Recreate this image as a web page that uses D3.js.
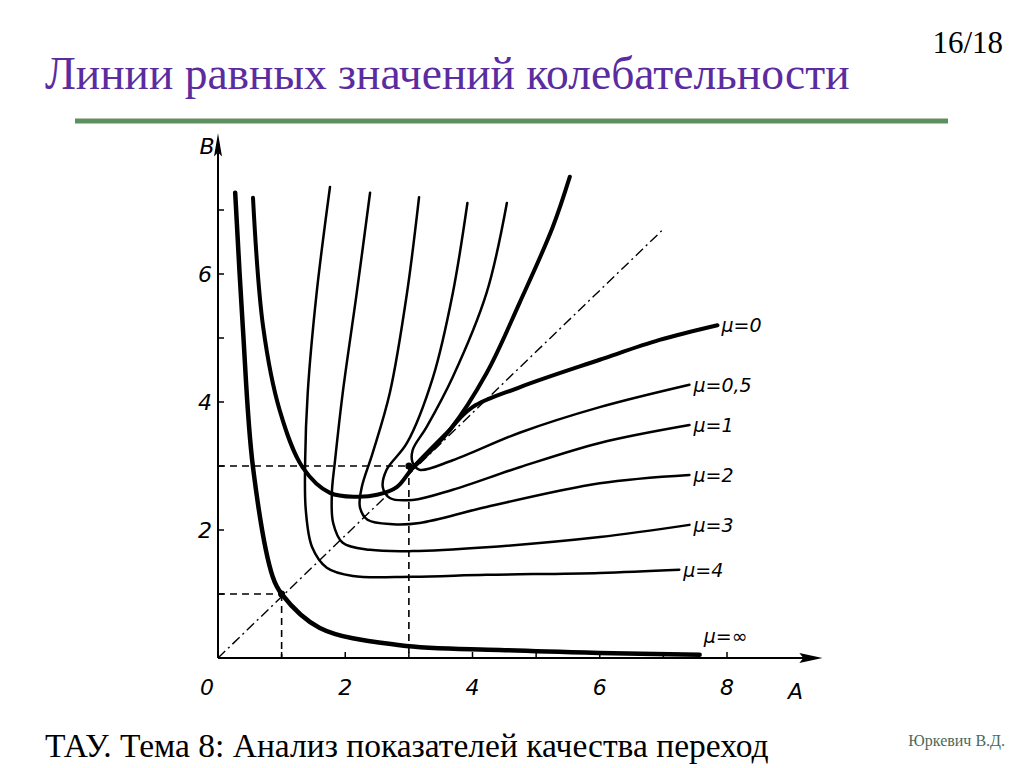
<!DOCTYPE html>
<html><head><meta charset="utf-8">
<script src="https://cdn.jsdelivr.net/npm/d3@7"></script>
<style>body{margin:0;background:#fff}</style></head>
<body><svg id="c" width="1024" height="768"></svg>
<script>
const xTicks=[0,2,4,6,8], yTicks=[2,4,6];
const muInf=[[0.27,7.27],[0.39,5.17],[0.55,2.98],[0.86,1.27],[1.0,1.0],[1.6,0.47],[2.86,0.2],[4.43,0.125],[6.0,0.08],[7.57,0.05]];
const mu0Left=[[0.55,7.19],[0.71,5.17],[0.97,3.87],[1.33,2.98],[1.76,2.58],[2.18,2.52],[2.5,2.55],[2.81,2.67],[3.06,2.97],[3.64,3.56]];
const mu0Right=[[3.64,3.56],[4.0,3.92],[4.74,4.23],[6.0,4.66],[6.94,4.97],[7.85,5.2]];
const mu0Up=[[3.06,2.97],[3.64,3.56],[4.22,4.45],[4.74,5.55],[5.26,6.73],[5.53,7.52]];
const mu05=[[4.54,7.11],[4.22,5.70],[3.69,4.39],[3.28,3.61],[3.06,3.25],[3.06,3.05],[3.17,2.94],[3.69,3.09],[4.74,3.52],[6.0,3.92],[7.41,4.27]];
const mu1=[[3.92,7.11],[3.69,5.70],[3.38,4.39],[2.97,3.36],[2.65,2.94],[2.59,2.67],[2.70,2.5],[3.06,2.47],[3.69,2.63],[4.74,2.98],[6.0,3.36],[7.41,3.64]];
const mu2=[[3.16,7.2],[2.97,5.70],[2.70,4.14],[2.43,3.2],[2.26,2.67],[2.23,2.36],[2.35,2.16],[2.75,2.09],[3.17,2.11],[4.22,2.36],[6.0,2.73],[7.41,2.86]];
const mu3=[[2.39,7.27],[2.18,5.70],[1.96,4.14],[1.84,3.09],[1.79,2.58],[1.81,2.11],[1.96,1.80],[2.39,1.69],[3.06,1.67],[4.22,1.73],[6.0,1.89],[7.41,2.08]];
const mu4=[[1.76,7.36],[1.55,5.70],[1.41,4.14],[1.37,3.09],[1.38,2.31],[1.48,1.73],[1.71,1.41],[2.12,1.28],[3.06,1.27],[4.22,1.3],[6.0,1.33],[7.25,1.38]];
const diag=[[0,0],[7.02,6.72]];
const labels=[["μ=0",7.85,5.2],["μ=0,5",7.41,4.27],["μ=1",7.41,3.64],["μ=2",7.41,2.86],["μ=3",7.41,2.08],["μ=4",7.25,1.38],["μ=∞",7.57,0.35]];

const svg=d3.select("#c");
const x=d3.scaleLinear().domain([0,8]).range([218,727]);
const y=d3.scaleLinear().domain([0,6]).range([658,274]);
const line=d3.line().x(d=>x(d[0])).y(d=>y(d[1])).curve(d3.curveCatmullRom.alpha(0.5));
const lin=d3.line().x(d=>x(d[0])).y(d=>y(d[1]));

svg.append("text").attr("x",45).attr("y",89).attr("font-family","Liberation Serif").attr("font-size",45.5).attr("fill","#5a2ca0").text("Линии равных значений колебательности");
svg.append("text").attr("x",1003).attr("y",53).attr("text-anchor","end").attr("font-family","Liberation Serif").attr("font-size",31).text("16/18");
svg.append("line").attr("x1",75).attr("x2",948).attr("y1",121).attr("y2",121).attr("stroke","#5e8f5e").attr("stroke-width",5);
svg.append("text").attr("x",45).attr("y",757).attr("font-family","Liberation Serif").attr("font-size",33.5).text("ТАУ. Тема 8: Анализ показателей качества переход");
svg.append("text").attr("x",1005).attr("y",746).attr("text-anchor","end").attr("font-family","Liberation Serif").attr("font-size",16).attr("fill","#4a6a5a").text("Юркевич В.Д.");

const g=svg.append("g");
g.append("line").attr("x1",x(0)).attr("y1",y(0)).attr("x2",x(9.2)).attr("y2",y(0)).attr("stroke","#000").attr("stroke-width",2);
g.append("line").attr("x1",x(0)).attr("y1",y(0)).attr("x2",x(0)).attr("y2",y(7.9)).attr("stroke","#000").attr("stroke-width",2);
g.append("path").attr("d",`M${x(9.5)},${y(0)} L${x(9.2)-4},${y(0)-5} L${x(9.2)},${y(0)} L${x(9.2)-4},${y(0)+5}Z`).attr("fill","#000");
g.append("path").attr("d",`M${x(0)},${y(8.2)} L${x(0)-4},${y(7.9)+4} L${x(0)},${y(7.9)} L${x(0)+4},${y(7.9)+4}Z`).attr("fill","#000");
d3.range(1,9).forEach(t=>g.append("line").attr("x1",x(t)).attr("x2",x(t)).attr("y1",y(0)).attr("y2",y(0)-6).attr("stroke","#000").attr("stroke-width",1.5));
d3.range(1,8).forEach(t=>g.append("line").attr("x1",x(0)).attr("x2",x(0)+6).attr("y1",y(t)).attr("y2",y(t)).attr("stroke","#000").attr("stroke-width",1.5));
const lf={"font-family":"DejaVu Sans","font-style":"italic","font-size":22};
function txt(s,px,py,anchor){const t=g.append("text").attr("x",px).attr("y",py).attr("text-anchor",anchor||"middle").text(s);for(const k in lf)t.attr(k,lf[k]);return t;}
xTicks.forEach(t=>txt(t,t===0?x(t)-11:x(t),y(0)+37));
yTicks.forEach(t=>txt(t,x(0)-13,y(t)+8));
txt("B",x(0)-11,y(7.9)+2);
txt("A",x(9.0)+5,y(0)+41);
const dash=(a,b)=>g.append("path").attr("d",lin([a,b])).attr("stroke","#000").attr("stroke-width",1.6).attr("stroke-dasharray","7,5").attr("fill","none");
dash([0,1],[1,1]);dash([1,1],[1,0]);dash([0,3],[3,3]);dash([3,3],[3,0]);
g.append("path").attr("d",lin(diag)).attr("stroke","#000").attr("stroke-width",1.4).attr("stroke-dasharray","10,4,2,4").attr("fill","none");
const curves=[[muInf,4.5],[mu0Left,4],[mu0Right,4],[mu0Up,4],[mu05,2.5],[mu1,2.5],[mu2,2.5],[mu3,2.5],[mu4,2.5]];
curves.forEach(([d,w])=>g.append("path").attr("d",line(d)).attr("stroke","#000").attr("stroke-width",w).attr("fill","none").attr("stroke-linecap","round"));
[[1,1],[3,3]].forEach(p=>g.append("circle").attr("cx",x(p[0])).attr("cy",y(p[1])).attr("r",3.5));
labels.forEach(([s,a,b])=>txt(s,x(a)+4,y(b)+7,"start").attr("font-size",19));
</script></body></html>
